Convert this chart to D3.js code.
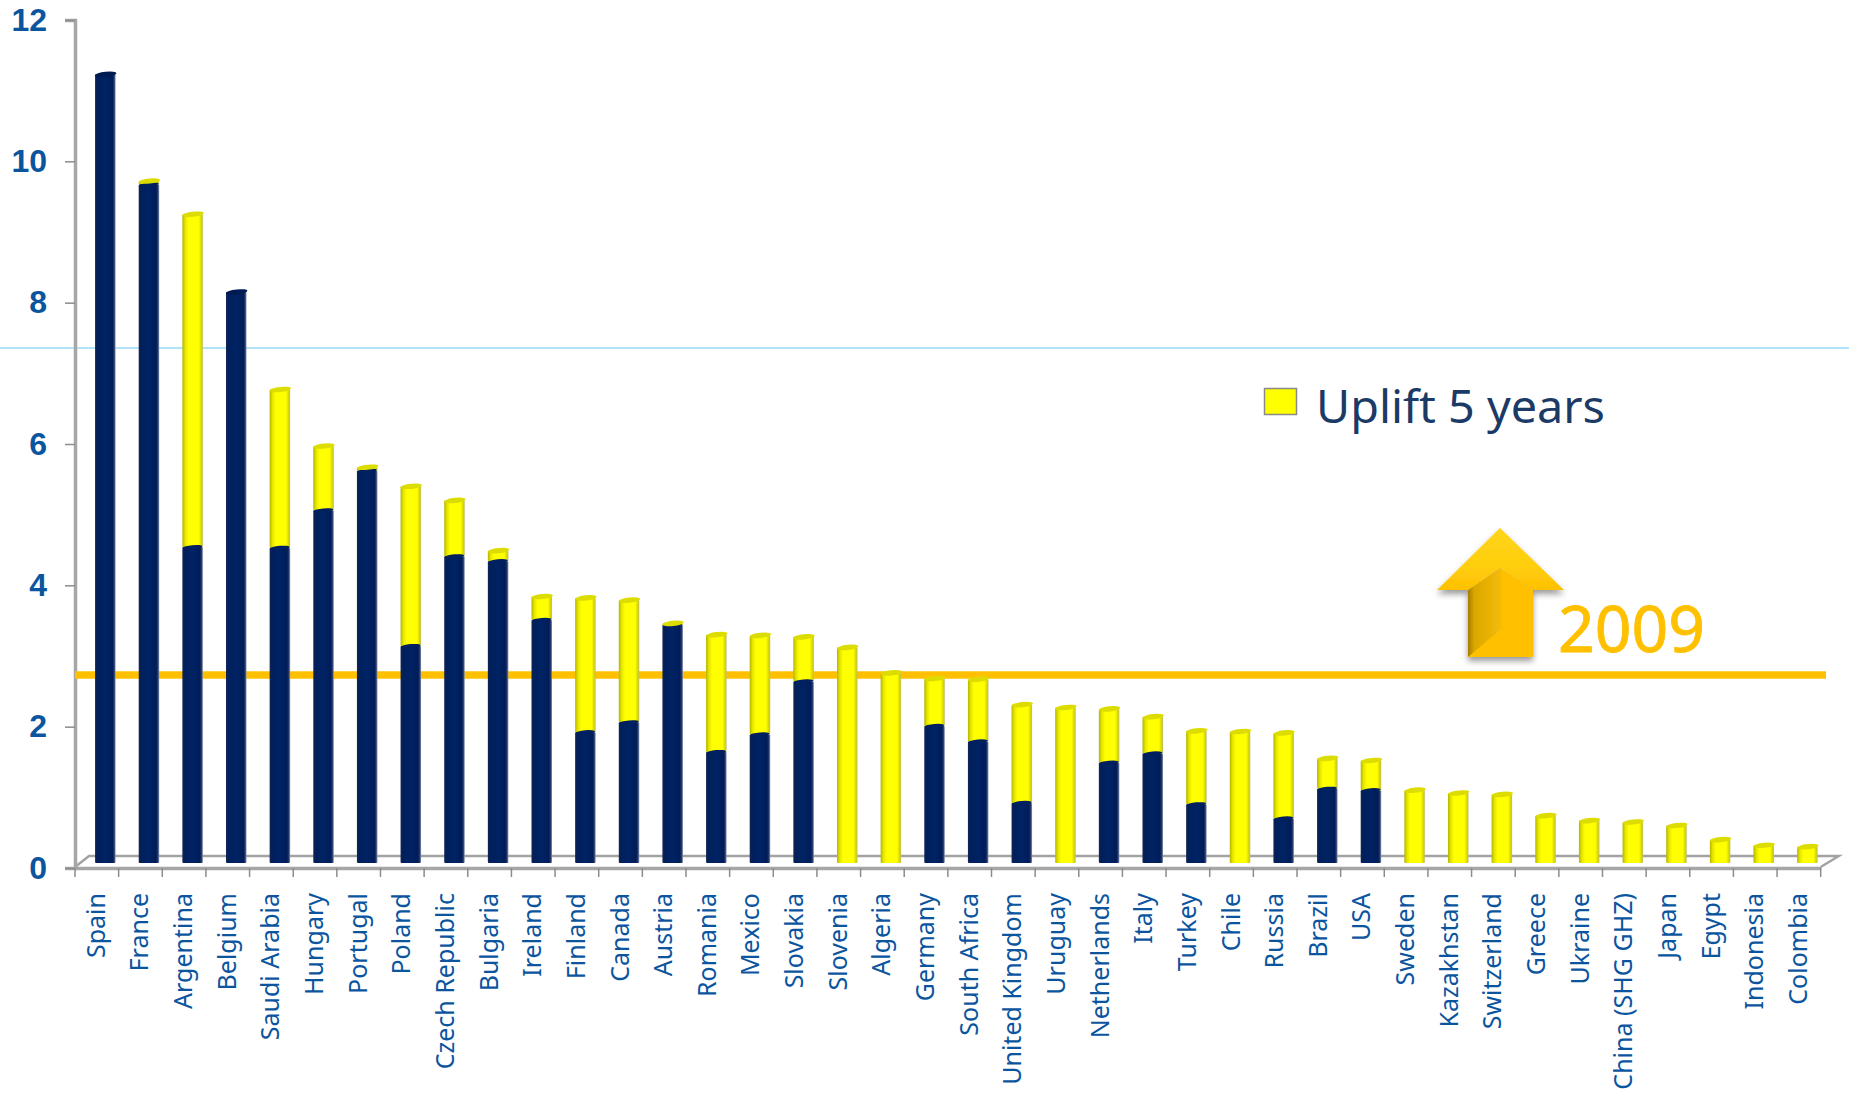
<!DOCTYPE html>
<html><head><meta charset="utf-8">
<script src="https://cdn.jsdelivr.net/npm/d3@7"></script>
<style>html,body{margin:0;padding:0;background:#fff;overflow:hidden}svg{display:block}</style>
</head><body><svg id="c" width="1849" height="1094"></svg>
<script>
const countries=["Spain","France","Argentina","Belgium","Saudi Arabia","Hungary","Portugal","Poland","Czech Republic","Bulgaria","Ireland","Finland","Canada","Austria","Romania","Mexico","Slovakia","Slovenia","Algeria","Germany","South Africa","United Kingdom","Uruguay","Netherlands","Italy","Turkey","Chile","Russia","Brazil","USA","Sweden","Kazakhstan","Switzerland","Greece","Ukraine","China (SHG GHZ)","Japan","Egypt","Indonesia","Colombia"];
const baseValues=[11.16,9.6,4.47,8.08,4.46,4.99,5.55,3.07,4.34,4.27,3.44,1.85,1.99,3.37,1.57,1.82,2.57,0,0,1.94,1.72,0.85,0,1.42,1.55,0.83,0,0.63,1.05,1.03,0,0,0,0,0,0,0,0,0,0];
const upliftValues=[0,0.05,4.71,0,2.24,0.91,0.05,2.26,0.79,0.15,0.33,1.9,1.73,0.02,1.66,1.4,0.63,3.05,2.69,0.67,0.88,1.39,2.2,0.76,0.52,1.04,1.86,1.21,0.43,0.42,1.03,0.99,0.97,0.67,0.6,0.58,0.53,0.33,0.25,0.23];
const yTicks=[0,2,4,6,8,10,12];
const reference2009=2.73;
const legendLabel="Uplift 5 years", yearLabel="2009";

const svg=d3.select("#c");
const blue="#0b559f";
const x=d3.scaleBand().domain(countries).range([75,1820.7]);
const y=d3.scaleLinear().domain([0,12]).range([868,20]);
const dx=8.5, dy=-5, bw=20.5;

const defs=svg.append("defs");
function grad(id,stops,horizontal=true){
  const g=defs.append("linearGradient").attr("id",id).attr("x1",0).attr("y1",0).attr("x2",horizontal?1:0).attr("y2",horizontal?0:1);
  stops.forEach(s=>g.append("stop").attr("offset",s[0]).attr("stop-color",s[1]));
}
grad("navy",[[0,"#14244f"],[.12,"#001f5c"],[.5,"#002364"],[.85,"#001c58"],[.93,"#22386e"],[1,"#8a94ae"]]);
grad("yel",[[0,"#b4b400"],[.14,"#e6e600"],[.3,"#ffff00"],[.8,"#ffff00"],[.92,"#d8d800"],[1,"#bcbc6c"]]);
grad("shaft",[[0,"#a87c00"],[.1,"#dba800"],[.45,"#f0b808"],[.55,"#ffc000"],[1,"#ffc000"]]);
grad("head",[[0,"#ffd414"],[.6,"#ffcf10"],[1,"#ffc000"]],false);
const f=defs.append("filter").attr("id","sh").attr("x","-20%").attr("y","-20%").attr("width","140%").attr("height","140%");
f.append("feDropShadow").attr("dx",0).attr("dy",4).attr("stdDeviation",3).attr("flood-color","#000").attr("flood-opacity",.4);

// thin slide rule
svg.append("line").attr("x1",0).attr("x2",1849).attr("y1",348).attr("y2",348).attr("stroke","#62c9f5").attr("stroke-width",1);

// 3D floor
const grey="#a3a3a3";
const floor=svg.append("g").attr("fill","none").attr("stroke",grey);
const x0=x.range()[0], x1=x.range()[1], yb=y(0);
floor.append("path").attr("stroke-width",2.5).attr("d",d3.line()([[x0,yb-1],[x0+14,yb-12],[x1+18,yb-12],[x1,yb-1]]));

// y axis
const ya=svg.append("g").attr("transform",`translate(${x0},0)`).call(d3.axisLeft(y).tickValues(yTicks).tickSize(10).tickPadding(18));
ya.select(".domain").attr("stroke","#a6a6a6").attr("stroke-width",3.5);
ya.selectAll(".tick line").attr("stroke","#8c8c8c").attr("stroke-width",1.5);
ya.selectAll("text").attr("fill",blue).attr("font-family","'Liberation Sans',Arial,sans-serif").attr("font-weight",700).attr("font-size",32);

// x axis
const xa=svg.append("g").attr("transform",`translate(0,${yb})`).call(d3.axisBottom(x).tickSize(0).tickPadding(0));
xa.select(".domain").attr("stroke","#a6a6a6").attr("stroke-width",3.5);
xa.selectAll(".tick text").attr("transform","translate(8,25) rotate(-90)").attr("text-anchor","end").attr("dy",0).attr("x",0).attr("y",0)
  .attr("fill",blue).attr("font-family","'Noto Sans',sans-serif").attr("font-size",25).attr("dominant-baseline","auto");
xa.selectAll(".edge").data([...countries.map(c=>x(c)),x1]).enter().append("line").attr("class","edge")
  .attr("x1",d=>d).attr("x2",d=>d).attr("y1",0).attr("y2",9).attr("stroke","#8c8c8c").attr("stroke-width",1.5);

// 2009 line
const ly=y(reference2009);
svg.append("line").attr("x1",x0).attr("x2",1826).attr("y1",ly).attr("y2",ly).attr("stroke","#ffc000").attr("stroke-width",7.5);

// bars
const data=countries.map((c,i)=>({c,base:baseValues[i],up:upliftValues[i]}));
const g=svg.append("g").selectAll("g").data(data).enter().append("g")
  .attr("transform",d=>`translate(${x(d.c)+x.bandwidth()/2+dx-bw/2},${dy})`);
g.filter(d=>d.up>0).append("rect").attr("x",0).attr("width",bw)
  .attr("y",d=>y(d.base+d.up)).attr("height",d=>y(d.base)-y(d.base+d.up)).attr("rx",1).attr("fill","url(#yel)");
g.filter(d=>d.base>0).append("rect").attr("x",0).attr("width",bw)
  .attr("y",d=>y(d.base)).attr("height",d=>y(0)-y(d.base)).attr("rx",1).attr("fill","url(#navy)");
g.filter(d=>d.up>0&&d.base>0).append("ellipse").attr("cx",bw/2).attr("cy",d=>y(d.base)).attr("rx",bw/2-.5).attr("ry",2)
  .attr("transform",d=>`rotate(-5 ${bw/2} ${y(d.base)})`).attr("fill","#00205f");
g.append("ellipse").attr("cx",bw/2+.5).attr("cy",d=>y(d.base+d.up)).attr("rx",bw/2+.5).attr("ry",2.6)
  .attr("transform",d=>`rotate(-6 ${bw/2} ${y(d.base+d.up)})`)
  .attr("fill",d=>d.up>0?"#dcdc00":"#001a52");

// legend
svg.append("rect").attr("x",1264.5).attr("y",388.5).attr("width",32).attr("height",26).attr("fill","#ffff00").attr("stroke","#8a8a8a").attr("stroke-width",1.5);
svg.append("text").attr("x",1316).attr("y",423).text(legendLabel).attr("fill","#1b3a66").attr("font-family","'Noto Sans',sans-serif").attr("font-size",46).attr("textLength",289).attr("lengthAdjust","spacingAndGlyphs");

// arrow
const ag=svg.append("g").attr("filter","url(#sh)");
ag.append("path").attr("d","M1468,590L1500,568L1533,590V657H1468Z").attr("fill","url(#shaft)");
ag.append("path").attr("d","M1500,528L1564,590L1533,590L1500,568L1468,590L1437,590Z").attr("fill","url(#head)");
svg.append("path").attr("d","M1468,657L1500,630L1533,657Z").attr("fill","#ffc000");
svg.append("text").attr("x",1558).attr("y",652).text(yearLabel).attr("fill","#ffc000").attr("stroke","#ffc000").attr("stroke-width",.8).attr("font-family","'Noto Sans',sans-serif").attr("font-size",63).attr("textLength",147).attr("lengthAdjust","spacingAndGlyphs");
</script></body></html>
